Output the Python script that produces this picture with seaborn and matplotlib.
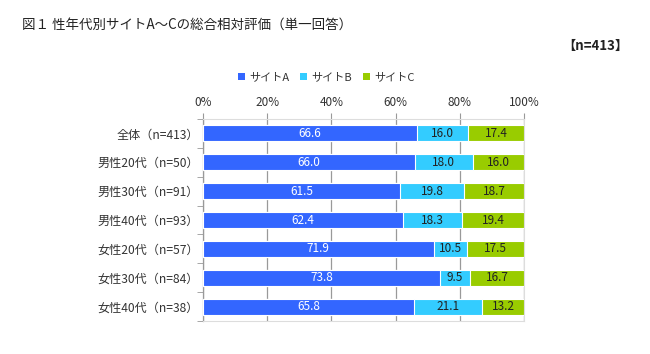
import numpy as np
import pandas as pd
import seaborn as sns
from matplotlib import pyplot as plt
from matplotlib.patches import Patch

## data
groups = ['全体（n=413）', '男性20代（n=50）', '男性30代（n=91）', '男性40代（n=93）',
          '女性20代（n=57）', '女性30代（n=84）', '女性40代（n=38）']
site_a = [66.6, 66.0, 61.5, 62.4, 71.9, 73.8, 65.8]
site_b = [16.0, 18.0, 19.8, 18.3, 10.5, 9.5, 21.1]
site_c = [17.4, 16.0, 18.7, 19.4, 17.5, 16.7, 13.2]
series_names = ['サイトA', 'サイトB', 'サイトC']
colors = ['#3366ff', '#33ccff', '#99cc00']

sns.set_style('white')
plt.rcParams['font.family'] = ['Noto Sans CJK JP', 'DejaVu Sans']

df = pd.DataFrame({'group': groups, 'a': site_a, 'b': site_b, 'c': site_c})
df['ab'] = df['a'] + df['b']
df['abc'] = df['ab'] + df['c']

fig = plt.figure(figsize=(6.5, 3.54), dpi=100)
ax = fig.add_axes([0.3123, 0.093, 0.4938, 0.571])

## stacked bars: draw cumulative totals back to front
for col, colr in [('abc', colors[2]), ('ab', colors[1]), ('a', colors[0])]:
    sns.barplot(data=df, x=col, y='group', color=colr, saturation=1, width=0.55,
                edgecolor='white', linewidth=0.8, ax=ax, zorder=3)

## value labels
for i in range(len(groups)):
    ax.text(site_a[i] / 2, i, f'{site_a[i]:.1f}', ha='center', va='center',
            color='white', fontsize=8.5, zorder=5)
    ax.text(site_a[i] + site_b[i] / 2, i, f'{site_b[i]:.1f}', ha='center', va='center',
            color='#222222', fontsize=8.5, zorder=5)
    ax.text(site_a[i] + site_b[i] + site_c[i] / 2, i, f'{site_c[i]:.1f}', ha='center',
            va='center', color='#222222', fontsize=8.5, zorder=5)

ax.set_xlim(0, 100)
ax.set_ylim(len(groups) - 0.5, -0.5)
ax.set_xticks(np.arange(0, 101, 20))
ax.set_xticklabels([f'{v}%' for v in range(0, 101, 20)])
ax.xaxis.tick_top()
ax.tick_params(axis='x', which='major', top=True, length=4, color='#999999',
               labelsize=8.5, labelcolor='#333333', pad=3)
ax.grid(axis='x', color='#999999', linewidth=0.9, zorder=0)
ax.set_axisbelow(True)

ax.set_yticks(range(len(groups)))
ax.set_yticklabels(groups)
ax.set_yticks(np.arange(-0.5, len(groups), 1), minor=True)
ax.tick_params(axis='y', which='major', length=0, labelsize=8.7, labelcolor='#333333', pad=3)
ax.tick_params(axis='y', which='minor', left=True, length=4, color='#999999')
ax.set_xlabel('')
ax.set_ylabel('')

for s in ['top', 'bottom', 'right']:
    ax.spines[s].set_color('#dddddd')
    ax.spines[s].set_linewidth(0.8)
ax.spines['left'].set_color('#999999')
ax.spines['left'].set_linewidth(0.9)

handles = [Patch(facecolor=c, edgecolor='none') for c in colors]
fig.legend(handles, series_names, loc='center', bbox_to_anchor=(0.502, 0.782),
           ncol=3, frameon=False, fontsize=8, handlelength=0.6, handleheight=0.6,
           handletextpad=0.4, columnspacing=1.0, labelcolor='#333333')

fig.text(22 / 650, 1 - 25 / 354, '図１ 性年代別サイトA～Cの総合相対評価（単一回答）',
         fontsize=9.7, color='#222222', va='center', ha='left')
fig.text(628 / 650, 1 - 46 / 354, '【n=413】', fontsize=9.5, color='#222222',
         va='center', ha='right', fontweight='bold')

fig.savefig('out.png', dpi=100)
